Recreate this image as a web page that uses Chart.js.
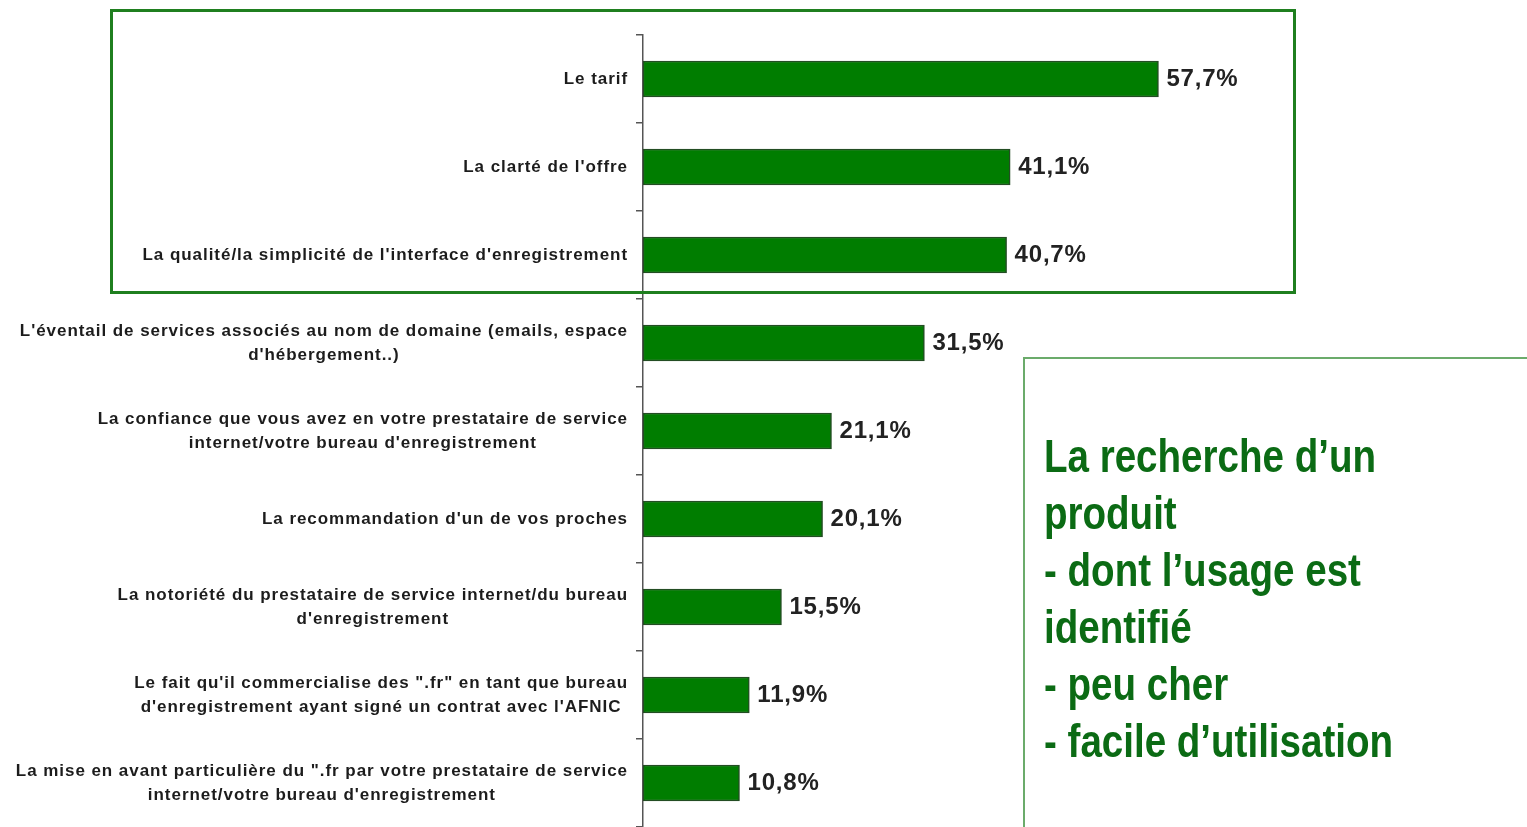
<!DOCTYPE html>
<html>
<head>
<meta charset="utf-8">
<script src="https://cdn.jsdelivr.net/npm/chart.js@4/dist/chart.umd.min.js"></script>
<style>
  html, body { margin: 0; padding: 0; background: #fff; overflow: hidden; }
  #wrap { position: relative; width: 1527px; height: 827px; }
  canvas { position: absolute; left: 0; top: 0; }
  #box1 { position: absolute; left: 110px; top: 9px; width: 1180px; height: 279px; border: 3px solid #1f7f1f; }
  #box2 { position: absolute; left: 1023px; top: 357px; width: 520px; height: 500px; border: 2px solid #6bab6b; }
  #note { position: absolute; left: 1044px; top: 427px; font-family: 'Liberation Sans Narrow', 'Arial Narrow', sans-serif; font-weight: bold; font-size: 47px; line-height: 57px; color: #0b6b14; white-space: nowrap; transform-origin: 0 0; }
</style>
</head>
<body>
<div id="wrap">
  <canvas id="c" width="1527" height="827"></canvas>
  <div id="box1"></div>
  <div id="box2"></div>
  <div id="note">La recherche d’un<br>produit<br>- dont l’usage est<br>identifié<br>- peu cher<br>- facile d’utilisation</div>
</div>
<script>
const categories = [
  ["Le tarif"],
  ["La clarté de l'offre"],
  ["La qualité/la simplicité de l'interface d'enregistrement"],
  ["L'éventail de services associés au nom de domaine (emails, espace", "d'hébergement..)"],
  ["La confiance que vous avez en votre prestataire de service", "internet/votre bureau d'enregistrement"],
  ["La recommandation d'un de vos proches"],
  ["La notoriété du prestataire de service internet/du bureau", "d'enregistrement"],
  ["Le fait qu'il commercialise des \".fr\" en tant que bureau", "d'enregistrement ayant signé un contrat avec l'AFNIC"],
  ["La mise en avant particulière du \".fr par votre prestataire de service", "internet/votre bureau d'enregistrement"]
];
const values = [57.7, 41.1, 40.7, 31.5, 21.1, 20.1, 15.5, 11.9, 10.8];
const valueLabels = ["57,7%", "41,1%", "40,7%", "31,5%", "21,1%", "20,1%", "15,5%", "11,9%", "10,8%"];

// Narrow font fallback
(function(){
  const cv = document.createElement('canvas').getContext('2d');
  cv.font = "bold 47px 'Liberation Sans Narrow', monospace";
  const w1 = cv.measureText('La recherche d’un').width;
  cv.font = "bold 47px monospace";
  const w2 = cv.measureText('La recherche d’un').width;
  if (Math.abs(w1 - w2) < 0.5) {
    const n = document.getElementById('note');
    n.style.fontFamily = "'Liberation Sans', sans-serif";
    n.style.transform = 'scaleX(0.82)';
  }
})();

const labelPlugin = {
  id: 'labels',
  afterDraw(chart) {
    const ctx = chart.ctx;
    const yScale = chart.scales.y;
    ctx.save();
    ctx.font = "bold 17px 'Liberation Sans', Arial, sans-serif";
    ctx.letterSpacing = '0.95px';
    ctx.fillStyle = '#1c1c1c';
    ctx.textAlign = 'center';
    ctx.textBaseline = 'middle';
    const rightEdge = 628;
    const lh = 24;
    categories.forEach((lines, i) => {
      const yc = yScale.getPixelForValue(i);
      let maxW = 0;
      lines.forEach(l => { maxW = Math.max(maxW, ctx.measureText(l).width); });
      const cx = rightEdge - maxW / 2;
      const y0 = yc - (lines.length - 1) * lh / 2;
      lines.forEach((l, k) => ctx.fillText(l, cx, y0 + k * lh));
    });
    // value labels
    ctx.font = "bold 24px 'Liberation Sans', Arial, sans-serif";
    ctx.letterSpacing = '0.8px';
    ctx.fillStyle = '#222';
    ctx.textAlign = 'left';
    const meta = chart.getDatasetMeta(0);
    meta.data.forEach((bar, i) => {
      ctx.fillText(valueLabels[i], bar.x + 8, bar.y);
    });
    ctx.restore();
  }
};

new Chart(document.getElementById('c'), {
  type: 'bar',
  data: {
    labels: categories,
    datasets: [{
      data: values,
      backgroundColor: '#007d00',
      borderColor: '#234d23',
      borderWidth: 1.5,
      borderSkipped: false,
      barThickness: 36
    }]
  },
  options: {
    indexAxis: 'y',
    responsive: false,
    animation: false,
    devicePixelRatio: 1,
    layout: { padding: { left: 636, right: 348, top: 35, bottom: -2 } },
    plugins: { legend: { display: false }, tooltip: { enabled: false } },
    scales: {
      x: { display: false, min: 0, max: 60 },
      y: {
        display: true,
        offset: true,
        afterFit(scale) { scale.width = 7; },
        ticks: { display: false },
        grid: { offset: true, drawOnChartArea: false, drawTicks: true, tickLength: 7, color: '#555', lineWidth: 1.5 },
        border: { display: true, color: '#555', width: 1.5 }
      }
    }
  },
  plugins: [labelPlugin]
});
</script>
</body>
</html>
